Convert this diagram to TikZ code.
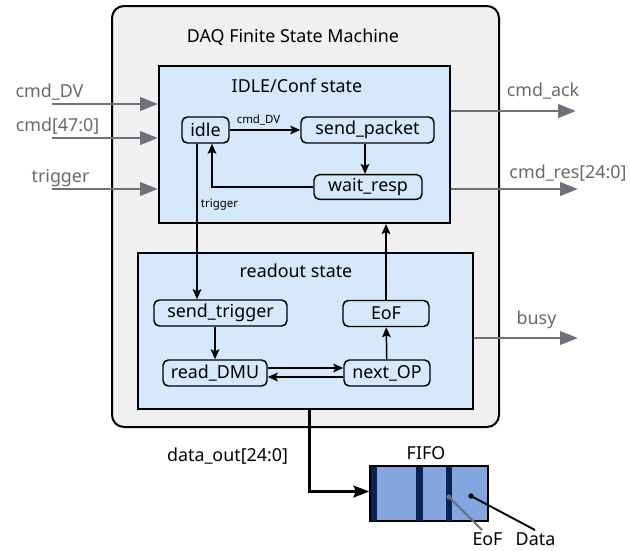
\documentclass[tikz,border=0pt]{standalone}
\usepackage{fontspec}
\setmainfont{Noto Sans}
\usetikzlibrary{arrows.meta}

\definecolor{outerfill}{RGB}{240,240,240}
\definecolor{statefill}{RGB}{213,232,252}
\definecolor{sigline}{RGB}{112,112,122}
\definecolor{sigtext}{RGB}{105,105,105}
\definecolor{fifofill}{RGB}{130,166,221}
\definecolor{fifomark}{RGB}{10,35,82}

\tikzset{
  bigtext/.style={font=\fontsize{13.4pt}{15pt}\selectfont},
  smalltext/.style={font=\fontsize{8.6pt}{10pt}\selectfont},
  container/.style={draw=black, line width=1.5pt, fill=statefill, inner sep=0pt},
  stbox/.style={draw=black, line width=1.1pt, rounded corners=4pt, fill=statefill,
    inner sep=0pt, minimum height=19.5pt, bigtext},
  flow/.style={draw=black, line width=1.1pt, -{Stealth[length=7.5pt,width=6.5pt,inset=1.5pt]}},
  sig/.style={draw=sigline, line width=2.2pt, -{Triangle[length=13.5pt,width=10pt]}},
  siglabel/.style={text=sigtext, bigtext, anchor=base, inner sep=0pt},
  txt/.style={bigtext, anchor=base, inner sep=0pt},
  fifomarkfill/.style={fill=fifomark, draw=none}
}

\begin{document}
\begin{tikzpicture}[x=0.75pt,y=-0.75pt]
\useasboundingbox (0,0) rectangle (630,550);

% enclosing state machine
\node[draw=black, line width=1.5pt, fill=outerfill, rounded corners=9pt, inner sep=0pt,
  minimum width=290.25pt, minimum height=315.75pt] (fsm) at (305.5,216.5) {};
\node[txt] (fsmtitle) at (293,42) {DAQ Finite State Machine};

% configuration sub-machine
\node[container, minimum width=218.25pt, minimum height=117.75pt] (idlebox) at (304.5,144.5) {};
\node[txt] (idletitle) at (297,92) {IDLE/Conf state};

% readout sub-machine
\node[container, minimum width=251.25pt, minimum height=117pt] (readbox) at (305.5,331) {};
\node[txt] (readtitle) at (296,277) {readout state};

% states
\node[stbox, minimum width=35.25pt] (idle) at (205.5,130) {idle};
\node[stbox, minimum width=99.75pt] (sendpkt) at (367.5,130) {send\_packet};
\node[stbox, minimum width=81pt, minimum height=18.5pt] (waitresp) at (368,187) {wait\_resp};
\node[stbox, minimum width=99.75pt] (sendtrig) at (220.5,313) {send\_trigger};
\node[stbox, minimum width=64.5pt] (eof) at (386,313.5) {EoF};
\node[stbox, minimum width=78pt] (readdmu) at (215,373) {read\_DMU};
\node[stbox, minimum width=64.5pt] (nextop) at (387,373) {next\_OP};

% transitions
\draw[flow] (idle) -- (sendpkt);
\node[smalltext, anchor=base, inner sep=0pt] (lblcmd) at (258.5,123) {cmd\_DV};
\draw[flow] (sendpkt.south -| 365,0) -- (waitresp.north -| 365,0);
\draw[flow] (waitresp.west) -| (idle.south -| 212,0);
\draw[flow] (idle.south -| 197,0) -- (sendtrig.north -| 197,0);
\node[smalltext, anchor=base, inner sep=0pt] (lbltrig) at (219.5,207) {trigger};
\draw[flow] (sendtrig.south -| 215,0) -- (readdmu.north -| 215,0);
\draw[flow] (readdmu.east |- 0,368) -- (nextop.west |- 0,368);
\draw[flow] (nextop.west |- 0,377) -- (readdmu.east |- 0,377);
\draw[flow] (nextop) -- (eof);
\draw[flow] (eof) -- (idlebox.south -| eof);

% external signals
\coordinate (inDV) at (52,104);
\coordinate (inCmd) at (52,138);
\coordinate (inTrig) at (52,189);
\coordinate (outAck) at (576,111);
\coordinate (outRes) at (578,189);
\coordinate (outBusy) at (578,338);

\draw[sig] (inDV) -- (inDV -| idlebox.west);
\draw[sig] (inCmd) -- (inCmd -| idlebox.west);
\draw[sig] (inTrig) -- (inTrig -| idlebox.west);
\draw[sig] (outAck -| idlebox.east) -- (outAck);
\draw[sig] (outRes -| idlebox.east) -- (outRes);
\draw[sig] (outBusy -| readbox.east) -- (outBusy);

\node[siglabel] (lDV) at (49.5,97) {cmd\_DV};
\node[siglabel] (lCmd) at (57.5,131) {cmd[47:0]};
\node[siglabel] (lTrig) at (60.5,182) {trigger};
\node[siglabel] (lAck) at (543,96) {cmd\_ack};
\node[siglabel] (lRes) at (568,178) {cmd\_res[24:0]};
\node[siglabel] (lBusy) at (536.5,324) {busy};

% output FIFO
\node[draw=black, line width=1pt, fill=fifofill, inner sep=0pt,
  minimum width=88.5pt, minimum height=41.25pt] (fifo) at (429,493.5) {};
\fill[fifomarkfill] (371,466.5) rectangle (377,520.5);
\fill[fifomarkfill] (416,466.5) rectangle (423,520.5);
\fill[fifomarkfill] (446,466.5) rectangle (452,520.5);
\draw[line width=0.8pt] (fifo.north west) rectangle (fifo.south east);
\node[txt] (fifotitle) at (426,459) {FIFO};

\draw[draw=black, line width=1.7pt, -{Stealth[length=12pt,width=9pt,inset=2pt]}]
  (readbox.south -| 309.5,0) |- (fifo.west |- 0,491.5);
\node[txt] (ldata) at (227.5,461) {data\_out[24:0]};

% FIFO callouts
\coordinate (eofdot) at (449,497);
\coordinate (datadot) at (471,496);
\fill[sigline] (eofdot) circle (2pt);
\draw[sigline, line width=1.4pt] (eofdot) -- (482,530);
\fill[black] (datadot) circle (2pt);
\draw[black, line width=1.4pt] (datadot) -- (535,530);
\node[txt] (leof) at (487.5,545) {EoF};
\node[txt] (ldatatxt) at (535.5,545) {Data};
\end{tikzpicture}
\end{document}
